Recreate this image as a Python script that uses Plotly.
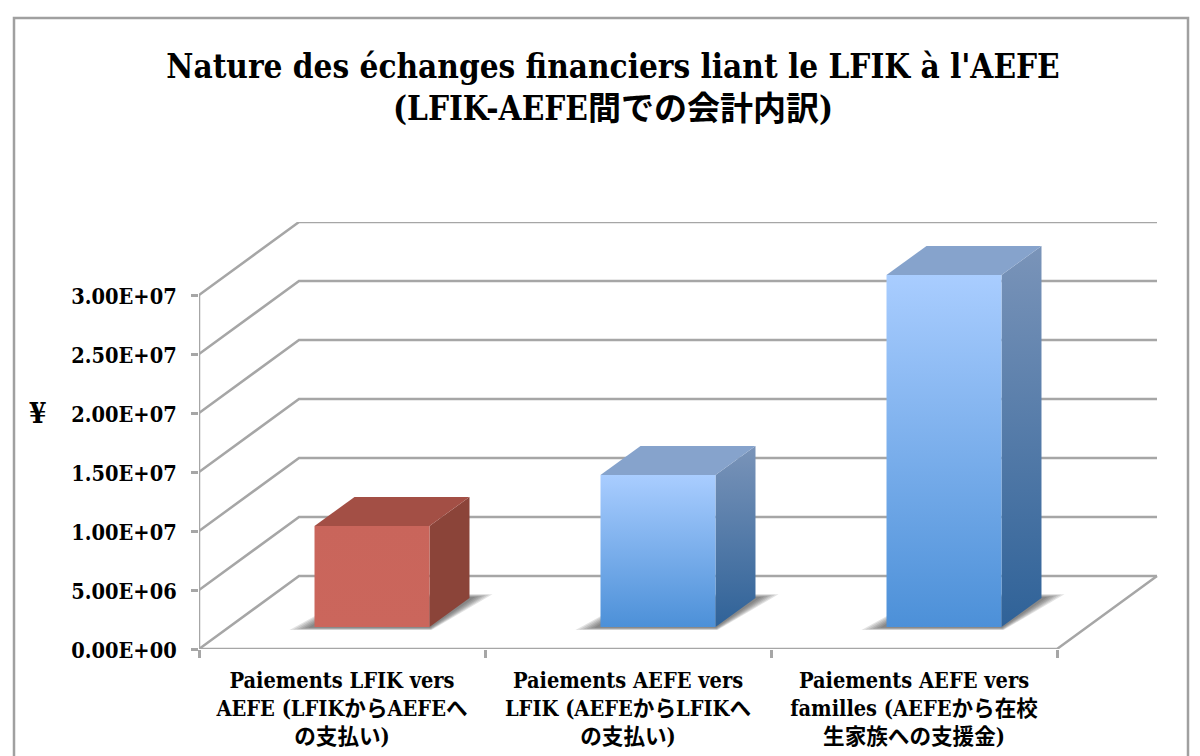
import plotly.graph_objects as go

title_text = "Nature des échanges financiers liant le LFIK à l'AEFE<br>(LFIK-AEFE間での会計内訳)"
categories = ["Paiements LFIK vers<br>AEFE (LFIKからAEFEへ<br>の支払い)",
              "Paiements AEFE vers<br>LFIK (AEFEからLFIKへ<br>の支払い)",
              "Paiements AEFE vers<br>familles (AEFEから在校<br>生家族への支援金)"]
values = [8.56e6, 1.288e7, 2.983e7]
y_ticks = [0, 5e6, 1e7, 1.5e7, 2e7, 2.5e7, 3e7]
y_labels = ["0.00E+00", "5.00E+06", "1.00E+07", "1.50E+07", "2.00E+07", "2.50E+07", "3.00E+07"]
unit_label = "¥"

FONT = "'DejaVu Serif Condensed', 'DejaVu Serif', 'Noto Sans CJK JP', serif"
GRID = "#a6a6a6"
W, H = 1200, 756
L, R, T, B = 199, 1158, 222, 649
n = len(categories)
PX_CAT = 286.0
PX_VAL = 354.0 / 3e7
DEPTH_X = 100.0 / PX_CAT       # oblique offset of the full floor depth, in category units
DEPTH_Y = 73.0 / PX_VAL        # same, in value units
BAR_W = 0.402
D0, D1 = 0.30, 0.70            # bar's depth span in the floor


def proj(cat, val, d=0.0):
    return cat + d * DEPTH_X, val + d * DEPTH_Y


def poly(points):
    xy = [proj(*p) for p in points]
    xs = [p[0] for p in xy] + [xy[0][0]]
    ys = [p[1] for p in xy] + [xy[0][1]]
    return xs, ys


fig = go.Figure()


def line(xs, ys, width=2.5):
    fig.add_trace(go.Scatter(x=xs, y=ys, mode="lines", line=dict(color=GRID, width=width),
                             cliponaxis=False, hoverinfo="skip", showlegend=False))


# walls and floor
for v in y_ticks:
    a = proj(0, v, 0)
    b = proj(0, v, 1)
    c = proj(n, v, 1)
    line([a[0], b[0], c[0]], [a[1], b[1], c[1]])
line([0, 0], [0, y_ticks[-1]])
f1 = proj(n, 0, 1)
line([0, n, f1[0]], [0, 0, f1[1]])

SKINS = [
    dict(front=["#CB665C", "#C9655B"], side=["#8B4439", "#8B4439"], top="#A34F45"),
    dict(front=["#4C90D8", "#A9CDFF"], side=["#2F6298", "#7A94B9"], top="#86A3CC"),
    dict(front=["#4C90D8", "#A9CDFF"], side=["#2F6298", "#7A94B9"], top="#86A3CC"),
]


def face(pts, colors):
    xs, ys = poly(pts)
    kw = dict(x=xs, y=ys, mode="lines", fill="toself", line=dict(width=0), cliponaxis=False,
              hoverinfo="skip", showlegend=False)
    if isinstance(colors, str):
        kw["fillcolor"] = colors
    else:
        kw["fillgradient"] = dict(type="vertical", colorscale=[[0, colors[0]], [1, colors[1]]],
                                  start=min(ys), stop=max(ys))
    fig.add_trace(go.Scatter(**kw))


for i, v in enumerate(values):
    c = i + 0.5
    x0, x1 = c - BAR_W / 2, c + BAR_W / 2
    # soft floor shadow: nested translucent layers
    for e in (1.0, 0.85, 0.7, 0.55, 0.4, 0.25):
        fl, fr = 21 * e / PX_CAT, 6 * e / PX_CAT
        bl, br = 5 * e / PX_CAT, 18 * e / PX_CAT
        d0, d1 = D0 - 0.04 * e, D1 + 0.05 * e
        xs, ys = poly([(x0 - fl, 0, d0), (x1 + fr, 0, d0), (x1 + br, 0, d1), (x0 - bl, 0, d1)])
        fig.add_trace(go.Scatter(x=xs, y=ys, mode="lines", fill="toself", line=dict(width=0),
                                 fillcolor="rgba(60,60,60,0.14)", cliponaxis=False,
                                 hoverinfo="skip", showlegend=False))
    s = SKINS[i]
    face([(x1, 0, D0), (x1, 0, D1), (x1, v, D1), (x1, v, D0)], s["side"])
    face([(x0, v, D0), (x1, v, D0), (x1, v, D1), (x0, v, D1)], s["top"])
    face([(x0, 0, D0), (x1, 0, D0), (x1, v, D0), (x0, v, D0)], s["front"])

px_x = lambda p: (p - L) / (R - L)
px_y = lambda p: (B - p) / (B - T)

fig.update_layout(
    width=W, height=H, autosize=False,
    margin=dict(l=L, r=W - R, t=T, b=H - B, pad=0),
    paper_bgcolor="white", plot_bgcolor="white", showlegend=False,
    font=dict(family=FONT, color="black"),
    title=dict(text="<b>" + title_text + "</b>", x=613 / W, xanchor="center", xref="container",
               y=1 - 77.5 / H, yanchor="middle", yref="container", automargin=False,
               font=dict(size=33, family=FONT, color="black")),
    xaxis=dict(range=[0, (R - L) / PX_CAT], showgrid=False, zeroline=False, showline=False, automargin=False,
               tickvals=[i + 0.5 for i in range(n)], ticktext=["<b>" + t + "</b>" for t in categories],
               ticks="", tickangle=0, tickfont=dict(size=21.6, family=FONT, color="black"),
               ticklabelstandoff=16,
               minor=dict(tickvals=list(range(n + 1)), ticks="outside", ticklen=8, tickwidth=2.5, tickcolor=GRID)),
    yaxis=dict(range=[0, (B - T) / PX_VAL], showgrid=False, zeroline=False, showline=False, automargin=False,
               tickvals=y_ticks, ticktext=["<b>" + t + "</b>" for t in y_labels],
               ticks="outside", ticklen=7, tickwidth=2.5, tickcolor=GRID,
               ticklabelstandoff=10, ticklabelshift=1,
               tickfont=dict(size=21.6, family=FONT, color="black")),
    annotations=[dict(text="<b>" + unit_label + "</b>", xref="paper", yref="paper",
                      x=px_x(38), y=px_y(413), xanchor="center", yanchor="middle", showarrow=False,
                      font=dict(size=28, family=FONT, color="black"))],
    shapes=[dict(type="rect", xref="paper", yref="paper", layer="below",
                 x0=px_x(14), x1=px_x(1188), y0=px_y(790), y1=px_y(18),
                 line=dict(color="#a0a0a0", width=2.5), fillcolor="rgba(0,0,0,0)")],
)

fig.write_html("out.html", config=dict(displayModeBar=False),
               post_script="document.body.style.margin='0';document.documentElement.style.overflow='hidden';")
